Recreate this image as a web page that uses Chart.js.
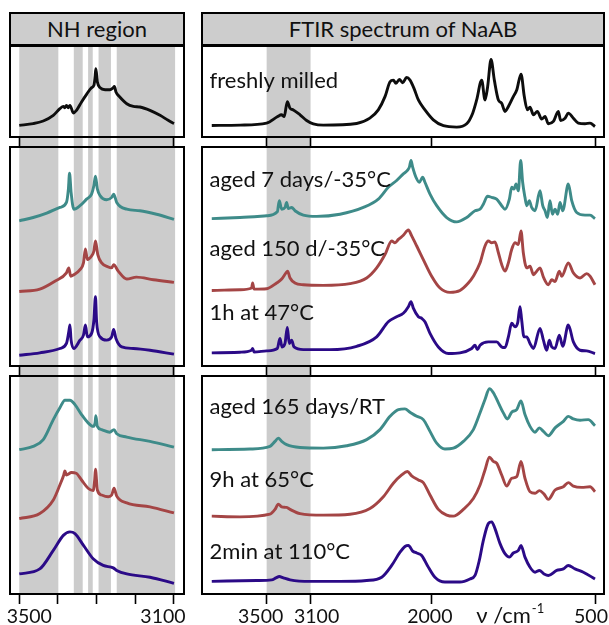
<!DOCTYPE html>
<html><head><meta charset="utf-8">
<script src="https://cdn.jsdelivr.net/npm/chart.js@4/dist/chart.umd.min.js"></script>
<style>
html,body{margin:0;padding:0;width:609px;height:625px;overflow:hidden;background:#fff;font-family:Lato,sans-serif;}
.hdr{position:absolute;box-sizing:border-box;border:2px solid #000;background:#cdcdcd;font-size:22px;color:#111;text-align:center;line-height:30px;}
.pc{position:absolute;}
</style></head><body>
<div class="hdr" style="left:9px;top:12px;width:176px;height:34px;">NH region</div>
<div class="hdr" style="left:201px;top:12px;width:404px;height:34px;">FTIR spectrum of NaAB</div>
<div class="pc" id="wl1"><canvas id="l1"></canvas></div>
<div class="pc" id="wr1"><canvas id="r1"></canvas></div>
<div class="pc" id="wl2"><canvas id="l2"></canvas></div>
<div class="pc" id="wr2"><canvas id="r2"></canvas></div>
<div class="pc" id="wl3"><canvas id="l3"></canvas></div>
<div class="pc" id="wr3"><canvas id="r3"></canvas></div>
<script>
// ---------- data: [wavenumber cm-1, offset absorbance (a.u.)] ----------
const freshNH = [[3500,12.8],[3464,14.7],[3438,17.6],[3412,23.8],[3395,31.1],[3386,33.7],[3382,32.2],[3378,34.8],[3373,32.2],[3369,34.8],[3360,26.4],[3352,29.3],[3339,38.5],[3326,46.9],[3313,54.2],[3307,56.8],[3304,65.9],[3302,75.1],[3298,60.4],[3291,54.2],[3278,52.0],[3266,52.0],[3257,54.2],[3254,55.5],[3250,49.5],[3240,44.0],[3222,36.6],[3205,33.7],[3188,33.0],[3162,29.3],[3136,23.8],[3115,18.3],[3100,14.7]];
const aged7NH = [[3500,66.3],[3464,67.8],[3429,69.8],[3395,72.4],[3378,74.7],[3373,80.8],[3370,88.0],[3366,79.3],[3359,71.6],[3343,73.2],[3326,76.2],[3313,78.5],[3307,82.4],[3303,86.7],[3298,80.8],[3291,77.8],[3274,75.9],[3261,77.0],[3256,78.5],[3248,74.7],[3222,71.6],[3188,70.9],[3145,69.3],[3100,67.0]];
const aged150NH = [[3500,34.0],[3447,35.1],[3408,38.7],[3378,42.5],[3372,44.8],[3367,41.0],[3359,41.7],[3343,44.0],[3334,47.1],[3329,53.5],[3324,48.6],[3313,50.2],[3307,52.5],[3303,57.1],[3297,50.9],[3287,47.1],[3270,45.2],[3261,44.8],[3256,46.3],[3244,43.3],[3222,39.7],[3197,40.6],[3153,39.4],[3100,38.2]];
const h47NH = [[3500,4.9],[3447,6.0],[3395,8.0],[3378,10.3],[3372,15.6],[3369,18.7],[3366,11.8],[3359,8.0],[3343,11.8],[3334,14.1],[3329,18.7],[3324,13.3],[3313,14.9],[3307,21.0],[3303,31.7],[3300,20.2],[3291,13.3],[3274,11.8],[3261,13.3],[3256,16.7],[3250,12.6],[3235,8.7],[3205,8.0],[3162,7.2],[3100,5.4]];
const aged165NH = [[3500,66.2],[3464,67.7],[3438,70.8],[3412,80.0],[3395,85.4],[3382,88.9],[3369,88.9],[3356,86.9],[3339,82.3],[3322,78.5],[3309,76.9],[3304,78.5],[3302,81.8],[3298,76.9],[3287,75.4],[3266,74.2],[3255,75.4],[3248,73.5],[3222,72.0],[3162,70.0],[3100,67.4]];
const h65NH = [[3500,34.6],[3447,36.9],[3412,43.1],[3395,50.0],[3385,54.6],[3382,56.5],[3378,54.6],[3365,55.7],[3353,55.4],[3339,52.3],[3322,48.5],[3309,47.4],[3305,52.3],[3303,57.2],[3298,47.7],[3287,45.4],[3270,44.6],[3261,45.4],[3255,48.5],[3248,44.9],[3222,41.8],[3162,40.0],[3100,37.2]];
const min110NH = [[3500,9.2],[3447,11.5],[3412,20.0],[3386,26.9],[3369,28.5],[3356,27.7],[3334,22.3],[3309,16.2],[3283,13.1],[3257,12.0],[3248,10.8],[3222,9.2],[3162,7.7],[3100,4.9]];

const fresh = [[4000,12.7],[3740,13.1],[3500,15.3],[3400,22.5],[3365,24.4],[3340,22.5],[3312,38.9],[3287,31.6],[3257,29.8],[3196,24.4],[3136,18.2],[3075,14.5],[2984,13.1],[2680,14.9],[2560,20.7],[2483,29.8],[2422,44.4],[2376,60.7],[2346,62.5],[2322,58.9],[2291,63.3],[2261,59.6],[2225,65.5],[2194,62.5],[2158,53.5],[2118,40.7],[2058,29.8],[1982,18.9],[1890,12.4],[1769,10.9],[1678,14.5],[1623,26.2],[1587,40.7],[1541,62.5],[1511,40.7],[1487,55.3],[1456,85.1],[1426,62.5],[1389,40.7],[1359,37.1],[1329,28.0],[1298,33.5],[1253,44.4],[1222,51.6],[1183,69.1],[1153,44.4],[1125,29.8],[1101,32.7],[1070,24.4],[1034,28.0],[995,19.6],[964,22.5],[934,14.5],[888,17.1],[843,28.0],[822,18.2],[782,20.7],[752,26.2],[706,20.7],[661,15.3],[600,14.5],[554,15.3],[509,11.6]];
const aged7 = [[4000,67.3],[3743,67.8],[3500,68.6],[3403,70.4],[3385,75.5],[3363,71.6],[3333,72.4],[3318,74.7],[3303,71.9],[3272,72.4],[3242,70.9],[3166,68.9],[3044,68.3],[2832,69.3],[2619,72.4],[2483,76.2],[2392,81.6],[2316,84.7],[2255,87.7],[2218,89.3],[2200,90.8],[2185,93.9],[2170,90.8],[2140,86.2],[2109,83.9],[2079,86.2],[2058,83.9],[2012,78.5],[1951,73.2],[1860,67.8],[1769,65.8],[1678,67.8],[1602,70.9],[1556,71.6],[1526,73.9],[1487,77.5],[1450,77.0],[1405,76.2],[1359,73.2],[1329,71.6],[1289,76.2],[1268,81.6],[1247,80.8],[1228,83.1],[1207,80.0],[1186,93.9],[1168,83.9],[1147,77.0],[1131,73.2],[1107,75.5],[1086,72.4],[1055,70.9],[1010,80.0],[985,73.2],[964,70.9],[943,67.8],[919,75.5],[897,69.3],[873,71.6],[849,69.3],[828,74.7],[803,70.9],[752,83.1],[721,75.5],[676,70.1],[600,68.9],[554,68.9],[509,67.3]];
const aged150 = [[4000,34.5],[3743,34.8],[3637,35.6],[3628,37.9],[3615,35.1],[3500,35.3],[3409,37.9],[3363,39.7],[3324,42.5],[3309,43.3],[3287,40.2],[3242,37.9],[3166,37.1],[2984,36.8],[2741,37.6],[2589,40.2],[2498,44.8],[2422,50.9],[2361,57.1],[2331,56.3],[2300,57.8],[2255,59.7],[2209,62.1],[2179,59.4],[2133,54.8],[2073,48.6],[1997,41.0],[1921,35.6],[1830,33.6],[1739,34.5],[1663,37.9],[1617,41.0],[1556,47.1],[1511,54.8],[1481,57.1],[1450,56.3],[1420,56.6],[1389,51.7],[1359,46.3],[1329,43.3],[1298,47.1],[1268,53.2],[1238,56.3],[1207,55.5],[1183,61.7],[1162,51.7],[1131,44.8],[1101,45.6],[1070,41.7],[1040,43.3],[1010,44.8],[979,40.6],[934,37.1],[903,39.4],[873,38.6],[834,43.3],[812,41.0],[752,47.1],[706,42.5],[645,40.2],[585,42.2],[554,41.0],[509,37.1]];
const h47 = [[4000,6.0],[3743,6.3],[3637,7.2],[3628,8.0],[3615,6.4],[3500,6.9],[3403,8.0],[3379,12.6],[3360,8.7],[3333,10.3],[3312,17.6],[3294,10.3],[3272,11.8],[3251,8.7],[3166,7.5],[2923,7.5],[2680,9.0],[2498,13.3],[2392,20.2],[2316,22.5],[2255,24.1],[2209,27.1],[2185,29.4],[2164,26.4],[2118,22.5],[2088,21.8],[2058,20.2],[2012,14.9],[1936,8.7],[1845,5.7],[1739,6.0],[1632,8.0],[1602,9.5],[1581,7.5],[1556,9.5],[1481,11.0],[1405,11.0],[1359,8.7],[1329,8.4],[1298,13.3],[1268,19.5],[1238,17.9],[1213,19.8],[1192,27.1],[1177,21.0],[1156,13.3],[1131,13.3],[1101,10.3],[1070,8.0],[1010,17.2],[979,11.8],[949,7.2],[925,11.8],[903,8.7],[873,8.0],[834,14.1],[803,9.0],[752,18.7],[706,11.0],[645,7.2],[585,6.9],[509,5.7]];
const aged165 = [[4000,66.2],[3652,66.5],[3470,67.7],[3424,70.0],[3394,71.5],[3363,70.0],[3318,68.5],[3196,67.2],[2984,66.9],[2771,68.0],[2589,70.8],[2468,75.4],[2376,81.5],[2300,84.6],[2240,84.9],[2194,83.4],[2133,81.5],[2073,80.0],[2012,74.6],[1951,69.2],[1876,66.5],[1799,66.9],[1708,70.0],[1617,75.4],[1556,83.1],[1511,89.2],[1471,94.2],[1435,92.3],[1389,87.7],[1344,83.1],[1307,80.3],[1268,83.4],[1222,84.6],[1183,88.5],[1147,82.3],[1101,76.9],[1055,74.2],[1016,76.2],[979,74.6],[934,72.6],[873,76.2],[797,79.2],[752,81.5],[706,80.3],[645,79.7],[570,80.0],[509,77.2]];
const h65 = [[4000,35.7],[3743,35.4],[3470,36.6],[3424,38.8],[3394,41.2],[3363,40.0],[3318,39.7],[3287,38.8],[3196,36.9],[2984,36.2],[2741,36.6],[2559,39.2],[2437,44.6],[2346,50.8],[2270,54.6],[2218,56.2],[2179,54.2],[2118,52.3],[2073,51.1],[2012,45.4],[1936,38.8],[1860,36.2],[1799,35.7],[1708,38.8],[1617,43.8],[1556,50.0],[1511,56.9],[1471,62.8],[1435,60.8],[1405,60.0],[1359,54.6],[1313,49.5],[1268,53.1],[1222,53.8],[1183,60.8],[1147,53.1],[1101,46.9],[1055,46.2],[1016,47.4],[973,45.8],[934,43.4],[873,47.7],[797,49.2],[752,51.1],[706,49.5],[630,48.9],[554,49.2],[509,46.9]];
const min110 = [[4000,5.8],[3591,6.2],[3454,6.5],[3415,7.4],[3385,8.0],[3348,7.4],[3287,6.5],[3105,5.8],[2832,5.8],[2589,6.2],[2452,7.7],[2361,13.1],[2285,19.2],[2240,21.8],[2209,22.3],[2170,19.7],[2133,18.8],[2088,17.7],[2036,13.1],[1967,7.7],[1876,5.5],[1739,5.5],[1648,6.9],[1602,8.5],[1563,15.4],[1526,24.6],[1481,32.3],[1450,33.1],[1420,30.0],[1374,23.1],[1329,18.5],[1289,16.9],[1253,18.8],[1207,20.0],[1183,22.3],[1147,16.9],[1101,12.3],[1055,10.0],[1016,10.8],[973,9.2],[934,8.5],[858,10.8],[797,11.5],[752,13.1],[691,11.5],[615,10.0],[509,6.9]];

// sample names and where they are written (wavenumber, a.u.)
const sampleNames = ['freshly milled','aged 7 days/-35°C','aged 150 d/-35°C','1h at 47°C','aged 165 days/RT','9h at 65°C','2min at 110°C'];
const nameAt = [[4020,54.2],[4020,81.9],[4020,50.2],[4020,21.0],[4020,82.6],[4020,48.9],[4020,16.2]];

// shaded wavenumber ranges
const nhBands = [[3500,3399],[3359,3336],[3322,3310],[3295,3263],[3248,3097]];
const ftirBands = [[3500,3100]];

// ticks
const nhTicks = [3500,3400,3300,3200,3100];
const nhTickLabels = [3500,3100];
const ftirTicks = [3500,3100,2000,500];
const ftirTickLabels = [3500,3100,2000,500];
const axisUnit = 'ν /cm';

// ---------- drawing ----------
const TEAL='#3e8b89', RED='#a44545', BLUE='#2b0a87', BLACK='#0d0d0d', BAND='#cccccc';
Chart.defaults.font.family = 'Lato, sans-serif';

const COLS = {
  L:{left:0,width:195,pad:[10,11],min:3074,max:3524,bands:nhBands,
     ticks:(b)=>b?nhTicks:[3500,3100], labs:nhTickLabels, dx:[10,-11]},
  R:{left:195,width:414,pad:[7,5],min:427,max:4089,bands:ftirBands,
     ticks:()=>ftirTicks, labs:ftirTickLabels, dx:[-6,6,-1.5,-5]}
};
const ROWS = [{top:40,height:107,bottom:false},{top:141,height:235,bottom:false},{top:370,height:255,bottom:true}];

function deco(p){
  return {
    id:'deco',
    beforeDraw(chart){
      const {ctx, chartArea:a, scales:{x}} = chart;
      ctx.save(); ctx.fillStyle = BAND;
      const yb = p.bottom ? a.bottom : chart.height;
      for (const [w1,w2] of p.bands){
        const x1=x.getPixelForValue(w1), x2=x.getPixelForValue(w2);
        ctx.fillRect(Math.min(x1,x2), a.top, Math.abs(x2-x1), yb-a.top);
      }
      ctx.restore();
    },
    afterDraw(chart){
      const {ctx, chartArea:a, scales:{x,y}} = chart;
      ctx.save();
      ctx.strokeStyle='#000'; ctx.lineWidth=2;
      ctx.strokeRect(a.left, a.top, a.right-a.left, a.bottom-a.top);
      ctx.fillStyle='#111'; ctx.textBaseline='alphabetic'; ctx.textAlign='left';
      ctx.font='22px Lato';
      for (const i of p.names) ctx.fillText(sampleNames[i], x.getPixelForValue(nameAt[i][0]), y.getPixelForValue(nameAt[i][1]));
      if (p.bottom){
        ctx.font='19.5px Lato'; ctx.textAlign='center';
        p.labs.forEach((v,i)=>ctx.fillText(String(v), x.getPixelForValue(v)+p.dx[i], a.bottom+29));
        if (p.unit){
          ctx.textAlign='left'; ctx.font='22px Lato';
          const ux = x.getPixelForValue(1590);
          ctx.fillText(axisUnit, ux, a.bottom+29);
          const w = ctx.measureText(axisUnit).width;
          ctx.font='13px Lato';
          ctx.fillText('-1', ux+w+1, a.bottom+19);
        }
      }
      ctx.restore();
    }
  };
}

function panel(id, col, row, series, names){
  const C = COLS[col], R = ROWS[row];
  const wrap = document.getElementById('w'+id);
  wrap.style.left=C.left+'px'; wrap.style.top=R.top+'px';
  wrap.style.width=C.width+'px'; wrap.style.height=R.height+'px';
  const cv = document.getElementById(id);
  cv.width=C.width; cv.height=R.height;
  const tv = C.ticks(R.bottom);
  new Chart(cv,{
    type:'line',
    data:{datasets: series.map(([d,c])=>({data:d.map(([w,v])=>({x:w,y:v})), borderColor:c, borderWidth:2.9,
      pointRadius:0, fill:false, cubicInterpolationMode:'monotone'}))},
    options:{
      responsive:false, animation:false, devicePixelRatio:1,
      layout:{padding:{left:C.pad[0], right:C.pad[1], top:6, bottom:R.bottom?21:0}},
      plugins:{legend:{display:false}, tooltip:{enabled:false}},
      scales:{
        x:{type:'linear', reverse:true, min:C.min, max:C.max,
           border:{display:false},
           grid:{drawOnChartArea:false, drawTicks:true, tickLength:10, tickColor:'#000', tickWidth:1.6},
           ticks:{display:false},
           afterBuildTicks:(ax)=>{ ax.ticks = tv.map(v=>({value:v})); }},
        y:{display:false, min:0, max:100}
      }
    },
    plugins:[deco({bands:C.bands, bottom:R.bottom, names, labs:C.labs, dx:C.dx, unit:col==='R'})]
  });
}

panel('l1','L',0,[[freshNH,BLACK]],[]);
panel('r1','R',0,[[fresh,BLACK]],[0]);
panel('l2','L',1,[[aged7NH,TEAL],[aged150NH,RED],[h47NH,BLUE]],[]);
panel('r2','R',1,[[aged7,TEAL],[aged150,RED],[h47,BLUE]],[1,2,3]);
panel('l3','L',2,[[aged165NH,TEAL],[h65NH,RED],[min110NH,BLUE]],[]);
panel('r3','R',2,[[aged165,TEAL],[h65,RED],[min110,BLUE]],[4,5,6]);
</script>
</body></html>
